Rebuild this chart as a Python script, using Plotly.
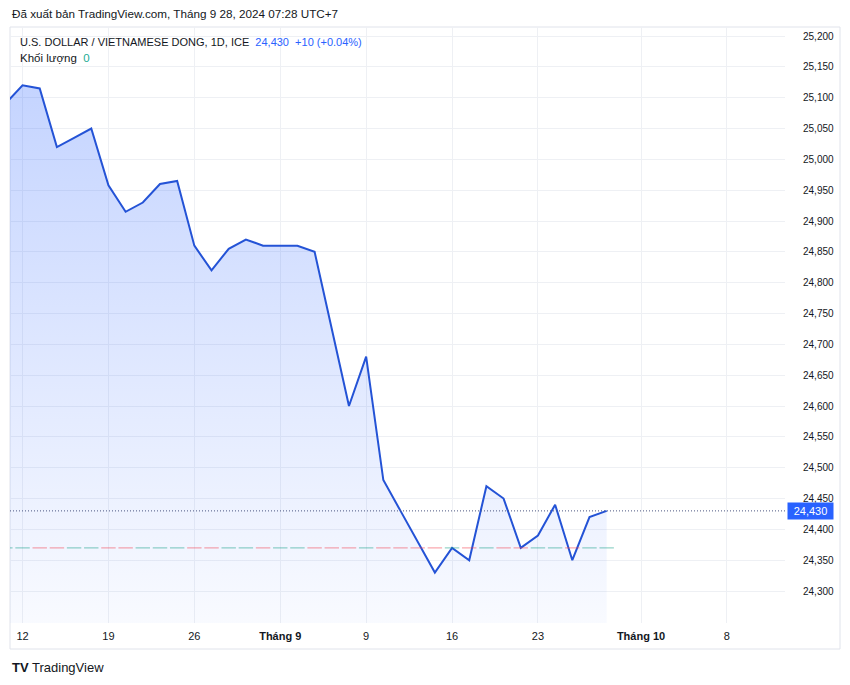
import numpy as np
import pandas as pd
import plotly.graph_objects as go

# ---------------- data ----------------
TITLE = "Đã xuất bản TradingView.com, Tháng 9 28, 2024 07:28 UTC+7"
SYMBOL = "U.S. DOLLAR / VIETNAMESE DONG, 1D, ICE"
LAST_TEXT = "24,430"
CHANGE_TEXT = "+10 (+0.04%)"
VOLUME_LABEL = "Khối lượng"
VOLUME_VALUE = "0"

dates = pd.bdate_range("2024-08-09", "2024-09-27")
closes = [25090, 25120, 25115, 25020, 25035, 25050,
          24958, 24915, 24930, 24960, 24965,
          24860, 24820, 24855, 24870, 24860,
          24860, 24860, 24850, 24725, 24600,
          24680, 24480, 24430, 24380, 24330,
          24370, 24350, 24470, 24450, 24370,
          24390, 24440, 24350, 24420, 24430]
last_value = 24430
volume_level = 24370  # where the zero-volume bars sit on the price scale

tick_dates = ["2024-08-12", "2024-08-19", "2024-08-26", "2024-09-02", "2024-09-09",
              "2024-09-16", "2024-09-23", "2024-10-01", "2024-10-08"]
tick_labels = ["12", "19", "26", "<b>Tháng 9</b>", "9", "16", "23", "<b>Tháng 10</b>", "8"]
y_ticks = list(range(24300, 25201, 50))

# ---------------- geometry (page pixels; page body has an 8px margin) ----------------
OFF = 8
W, H = 850 - OFF, 685 - OFF
PL, PR, PT, PB = 10, 785, 27, 623
X_RANGE = [-0.73, 44.38]
Y_RANGE = [24248.2, 25214.6]

def px_x(p):
    return (p - PL) / (PR - PL)

def px_y(p):
    return (PB - p) / (PB - PT)

origin = np.datetime64("2024-08-12")
xi = [int(np.busday_count(origin, np.datetime64(d.date()))) for d in dates]
tick_x = [int(np.busday_count(origin, np.datetime64(d))) for d in tick_dates]

BLUE = "#2962ff"
LINE = "#2453d6"
TXT = "#131722"
FONT = "Liberation Sans, Arial, sans-serif"

fig = go.Figure()

# area
fig.add_trace(go.Scatter(
    x=xi, y=closes, mode="lines",
    line=dict(color=LINE, width=2),
    fill="tozeroy",
    fillgradient=dict(type="vertical",
                      colorscale=[[0, "rgba(41,98,255,0.03)"], [1, "rgba(41,98,255,0.30)"]],
                      start=Y_RANGE[0], stop=Y_RANGE[1]),
    hoverinfo="skip", showlegend=False,
))

# zero volume bars (red / green)
up_x, up_y, dn_x, dn_y = [], [], [], []
prev = None
for x, c in zip(xi, closes):
    seg_x = [x - 0.42, x + 0.42, None]
    seg_y = [volume_level, volume_level, None]
    if prev is not None and c < prev:
        dn_x += seg_x; dn_y += seg_y
    else:
        up_x += seg_x; up_y += seg_y
    prev = c
fig.add_trace(go.Scatter(x=up_x, y=up_y, mode="lines",
                         line=dict(color="rgba(8,153,129,0.45)", width=1.2),
                         hoverinfo="skip", showlegend=False))
fig.add_trace(go.Scatter(x=dn_x, y=dn_y, mode="lines",
                         line=dict(color="rgba(242,54,69,0.45)", width=1.2),
                         hoverinfo="skip", showlegend=False))

fig.update_layout(
    width=W, height=H,
    margin=dict(l=PL - OFF, r=W - (PR - OFF), t=PT - OFF, b=H - (PB - OFF), pad=0),
    paper_bgcolor="white", plot_bgcolor="white",
    font=dict(family=FONT, size=11, color=TXT),
    showlegend=False,
    xaxis=dict(range=X_RANGE, tickmode="array", tickvals=tick_x, ticktext=tick_labels,
               showgrid=True, gridcolor="#eef0f4", gridwidth=1, zeroline=False,
               showline=False, ticks="outside", ticklen=3, tickcolor="rgba(0,0,0,0)",
               tickfont=dict(family=FONT, size=11, color=TXT), fixedrange=True),
    yaxis=dict(range=Y_RANGE, side="right", tickmode="array", tickvals=y_ticks,
               tickformat=",", showgrid=True, gridcolor="#eef0f4", gridwidth=1,
               zeroline=False, showline=False, ticks="outside", ticklen=15,
               tickcolor="rgba(0,0,0,0)", tickfont=dict(family=FONT, size=10, color=TXT),
               fixedrange=True),
)

shapes = [
    # frame
    dict(type="rect", xref="paper", yref="paper", x0=0, x1=px_x(840), y0=px_y(649), y1=1,
         line=dict(color="#e0e3eb", width=1), fillcolor="rgba(0,0,0,0)", layer="below"),
    # last price dotted line
    dict(type="line", xref="paper", yref="y", x0=0, x1=1, y0=last_value, y1=last_value,
         line=dict(color="#4a5580", width=1, dash="1px,2px")),
]
fig.update_layout(shapes=shapes)

annotations = [
    dict(text=TITLE, xref="paper", yref="paper", x=px_x(10), y=px_y(14),
         xanchor="left", yanchor="middle", showarrow=False,
         font=dict(family=FONT, size=11.7, color=TXT)),
    dict(text=f"{SYMBOL}&nbsp;&nbsp;<span style='color:{BLUE}'>{LAST_TEXT}&nbsp;&nbsp;{CHANGE_TEXT}</span>",
         xref="paper", yref="paper", x=px_x(18), y=px_y(42),
         xanchor="left", yanchor="middle", showarrow=False,
         font=dict(family=FONT, size=11, color=TXT)),
    dict(text=f"{VOLUME_LABEL}&nbsp;&nbsp;<span style='color:#22ab94'>{VOLUME_VALUE}</span>",
         xref="paper", yref="paper", x=px_x(18), y=px_y(58),
         xanchor="left", yanchor="middle", showarrow=False,
         font=dict(family=FONT, size=11.5, color=TXT)),
    dict(text=LAST_TEXT, xref="paper", yref="y", x=px_x(787), y=last_value,
         xanchor="left", yanchor="middle", showarrow=False,
         bgcolor=BLUE, width=45, height=16, borderpad=0,
         font=dict(family=FONT, size=11, color="white")),
    dict(text="<b>TV</b> TradingView", xref="paper", yref="paper", x=px_x(10), y=px_y(667),
         xanchor="left", yanchor="middle", showarrow=False,
         font=dict(family=FONT, size=13, color=TXT)),
]
fig.update_layout(annotations=annotations)

fig.write_html("out.html")
